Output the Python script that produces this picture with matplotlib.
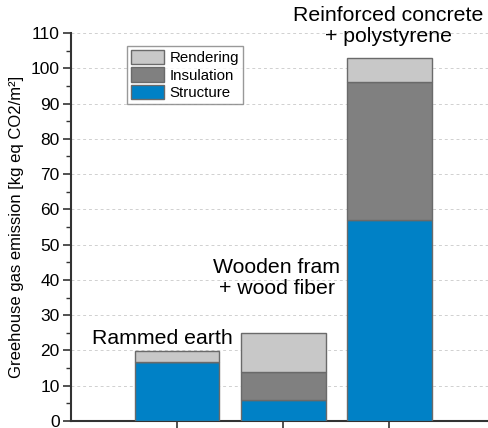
import numpy as np
import matplotlib
matplotlib.use("Agg")
import matplotlib.pyplot as plt
from matplotlib.ticker import MultipleLocator

plt.rcParams['font.family'] = ['Liberation Sans', 'DejaVu Sans']

# Values
walls = ["Rammed earth", "Wooden fram\n+ wood fiber", "Reinforced concrete\n+ polystyrene"]
structure = [16.7, 6.0, 57.0]
insulation = [0.0, 8.0, 39.0]
rendering = [3.2, 11.0, 7.0]

colors = {"Structure": "#0081c6", "Insulation": "#808080", "Rendering": "#c8c8c8"}
edge = "#6a6a6a"

fig = plt.figure(figsize=(4.89, 4.28), dpi=100)
ax = fig.add_axes([0.145, 0.0164, 0.855, 0.9066])

x = np.arange(1, len(walls) + 1)
w = 0.8
s = np.array(structure)
i = np.array(insulation)
r = np.array(rendering)

b1 = ax.bar(x, s, w, color=colors["Structure"], edgecolor=edge, linewidth=1, label="Structure", zorder=3)
b2 = ax.bar(x, i, w, bottom=s, color=colors["Insulation"], edgecolor=edge, linewidth=1, label="Insulation", zorder=3)
b3 = ax.bar(x, r, w, bottom=s + i, color=colors["Rendering"], edgecolor=edge, linewidth=1, label="Rendering", zorder=3)

ax.set_xlim(0, 3.94)
ax.set_ylim(0, 110)
ax.set_xticks(x)
ax.set_xticklabels([])
ax.yaxis.set_major_locator(MultipleLocator(10))
ax.yaxis.set_minor_locator(MultipleLocator(5))
ax.tick_params(axis='y', which='major', length=6, width=1.2, labelsize=12.5, pad=2,
               direction='out', color='#333333')
ax.tick_params(axis='y', which='minor', length=3.5, width=1.0, color='#333333')
ax.tick_params(axis='x', length=6, width=1.2, color='#333333')

ax.grid(axis='y', linestyle=(0, (3, 3)), color='#d0d0d0', linewidth=0.7, zorder=0)
ax.spines['top'].set_visible(False)
ax.spines['right'].set_visible(False)
for sp in ('left', 'bottom'):
    ax.spines[sp].set_linewidth(1.5)
    ax.spines[sp].set_color('#333333')

ax.set_ylabel("Greehouse gas emission [kg eq CO2/m²]", fontsize=12, labelpad=5)

# labels above the bars
label_pos = [(0.86, 23.5), (1.94, 40.5), (2.99, 112.0)]
for name, (lx, ly) in zip(walls, label_pos):
    ax.text(lx, ly, name, ha='center', va='center', fontsize=15.3, linespacing=1.15, clip_on=False)

ax.legend(handles=[b3, b2, b1], loc='upper left', bbox_to_anchor=(0.135, 0.966),
          fontsize=10.8, frameon=True, fancybox=False, edgecolor='#808080',
          handlelength=2.2, handleheight=1.1, handletextpad=0.35, labelspacing=0.15,
          borderpad=0.25, borderaxespad=0)

fig.savefig("out.png", dpi=100)
